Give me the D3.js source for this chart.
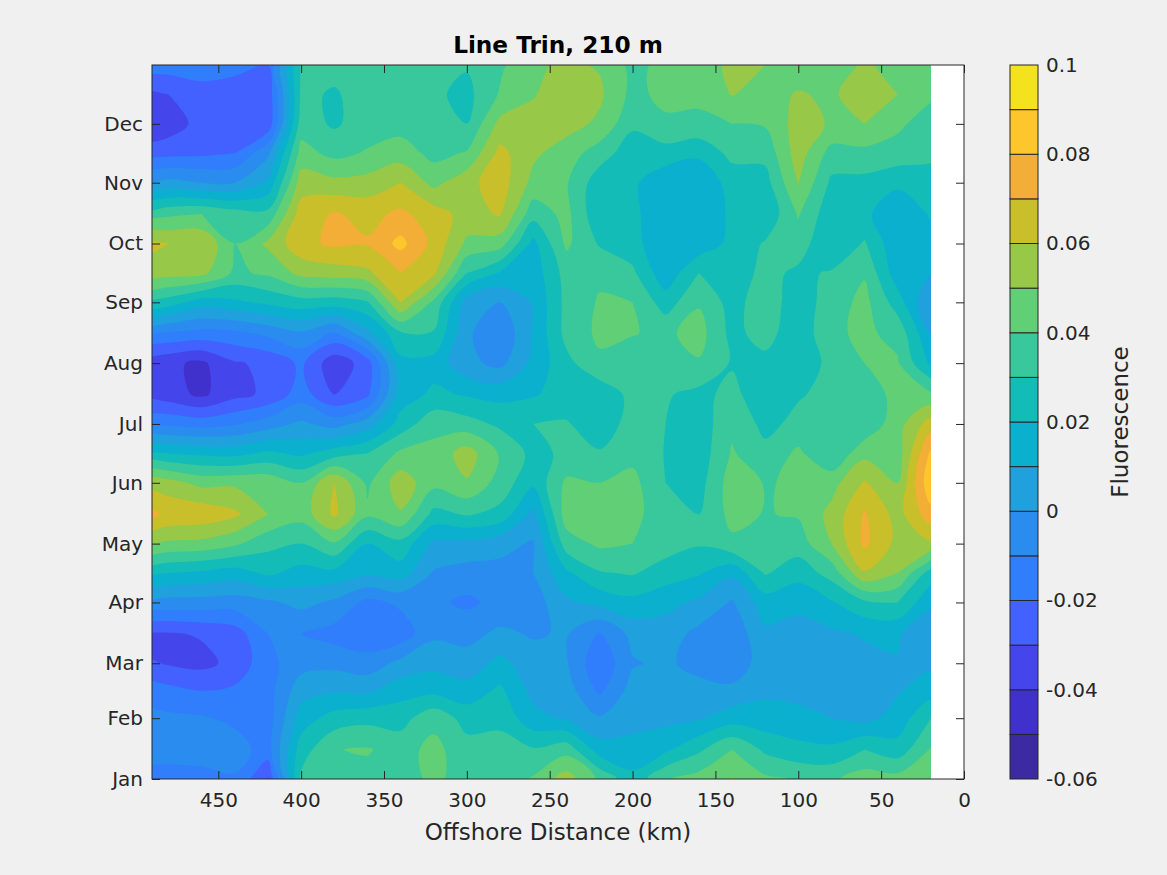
<!DOCTYPE html>
<html>
<head>
<meta charset="utf-8">
<style>
html, body { margin: 0; padding: 0; background: #f0f0f0; }
svg { display: block; font-family: "DejaVu Sans", sans-serif; }
.tick text { fill: #262626; font-size: 20px; font-family: "DejaVu Sans", sans-serif; }
.tick line { stroke: #262626; stroke-width: 1; }
.domain { display: none; }
</style>
<script src="https://cdnjs.cloudflare.com/ajax/libs/d3/7.8.5/d3.min.js"></script>
</head>
<body>
<svg id="chart" width="1167" height="875"></svg>
<script>
// Months on the y axis, day of year of each tick
var monthNames = ['Jan', 'Feb', 'Mar', 'Apr', 'May', 'Jun', 'Jul', 'Aug', 'Sep', 'Oct', 'Nov', 'Dec'];
var monthDays = [1, 32, 60, 91, 121, 152, 182, 213, 244, 274, 305, 335];
var distanceTicks = [450, 400, 350, 300, 250, 200, 150, 100, 50, 0];
var colorbarTicks = [-0.06, -0.04, -0.02, 0, 0.02, 0.04, 0.06, 0.08, 0.1];

// Contour levels, in units of 0.001
var levels = [-60, -50, -40, -30, -20, -10, 0, 10, 20, 30, 40, 50, 60, 70, 80, 90, 100];
var bandColors = ['#3b2aa2', '#4030cc', '#4446ec', '#4261ff', '#307efb', '#2b8cf0', '#20a0dc', '#0cb0cf',
    '#14bcb8', '#38c89c', '#60cf75', '#98c847', '#c9bf2a', '#f3ae38', '#fdc62c', '#f5e21e'];

// Grid nodes: first distance is left of the axis limit and gets clipped
var gridDistances = [500, 480, 460, 440, 420, 400, 380, 360, 340, 320, 300, 280, 260, 240, 220, 200, 180, 160, 140, 120, 100, 80, 60, 40, 20];
var gridDays = [365, 350, 335, 320, 305, 289, 274, 259, 244, 228, 213, 197, 182, 167, 152, 136, 121, 106, 91, 75, 60, 46, 32, 16, 1];

// Fluorescence x 1000: one line per distance, values follow gridDays
var fluorescence = [
    [-14, -38, -42, -26, -3, 30, 65, 55, 30, -12, -36, -33, -14, 22, 58, 75, 52, 22, -3, -35, -27, -15, -6, -5, -16],
    [-15, -30, -36, -23, 3, 38, 60, 54, 25, -12, -38, -36, -12, 20, 54, 68, 48, 20, -4, -31, -31, -17, -8, -6, -14],
    [-15, -24, -26, -22, 0, 40, 59, 53, 15, -14, -42, -42, -14, 18, 47, 67, 47, 18, -4, -29, -33, -20, -9, -6, -13],
    [-17, -25, -27, -20, 0, 35, 40, 38, 18, -13, -31, -33, -11, 17, 48, 62, 42, 15, -5, -25, -27, -18, -12, -6, -11],
    [-20, -27, -27, -2, 12, 33, 52, 42, 22, -8, -28, -28, -5, 22, 47, 50, 33, 22, -2, -10, -13, -14, -15, -14, -31],
    [31, 32, 35, 44, 55, 65, 67, 53, 26, -2, -18, -15, 2, 18, 40, 44, 30, 16, 3, -10, -4, 6, 15, 25, 32],
    [33, 29, 28.5, 37, 53, 71, 72, 55, 25, -12, -37, -30, -4, 25, 60, 62, 39, 17, -2, -14, -3, 9, 24, 39.7, 38],
    [35, 34, 35, 41, 54, 67, 71, 58, 29, 7, -25, -22, 5, 30, 38, 42, 20, 12, -13, -17, -6, 8, 27, 40.8, 37],
    [36, 35, 36, 45, 60, 72, 83, 70, 60, 28, 17, 15, 24, 42, 56, 49, 27, 15, -8, -16, 3, 16, 26, 36, 36],
    [35, 32, 34, 37, 47, 65, 67, 62, 38, 29, 16, 22, 37, 43, 43, 27, 8, -1, -8, -2, 7, 17, 37, 43, 42],
    [31, 27, 30, 41, 57, 56, 48, 30, 5, 2, 3, 19, 34, 55, 49, 31, 7, -4, -12, -3, 4, 14, 26, 34, 36],
    [38, 41, 53, 63, 65, 61, 45, 19, 0, -9, -3, 17, 28, 39, 36, 27, 3, -3, -7, 2, 13, 22, 28, 33, 34],
    [48, 49, 55, 52, 47, 34, 17, 14, 11, 11, 13, 19, 30, 27, 22, 7, -1, 0, -5, -1, 4, 7, 13, 31, 41],
    [52, 58, 54, 45, 41, 43, 42, 34, 33, 33, 27, 24, 31, 32, 42, 45, 35, 18, 8, 1, 1, 5, 9, 36, 55],
    [49, 52, 48, 35, 24, 22, 29, 38, 41, 42, 38, 23, 24, 31, 40, 46, 42, 29, 13, -11, -18, -12, 1, 15, 38],
    [37, 37, 32, 24, 22, 23, 24, 32, 40, 40.5, 34, 33, 34, 37, 43, 44, 40, 31, 17, 3, -1, 4, 7, 13, 23],
    [43, 43, 38, 26, 12, 11, 11, 13, 25, 38, 38, 31, 30, 29.5, 30, 32, 35, 25, 13, 5, 2, 4, 7, 18, 39],
    [43, 42, 38, 22, 12, 12, 13, 30, 39, 44, 39, 27, 24, 24, 26, 30, 31, 21, 8, -3, -4, 4, 9, 28, 44],
    [53, 50.5, 40, 33, 24, 22, 23, 24, 26, 27, 29, 33, 38, 41, 45, 43, 38, 12, -1, -7, -8, 3, 15, 40, 50.5],
    [50, 46, 41, 33, 26, 22, 31, 33, 36, 34, 27, 23, 27, 33, 39.5, 39.5, 39.5, 31, 15, 8, 6, 8, 14, 28, 42],
    [44, 51, 54, 55, 50.5, 41, 35, 28, 24, 23, 21, 29, 33, 42, 41, 41, 35, 24, 12, 7, 6, 7, 13, 23, 39],
    [43, 48, 49, 36, 28, 23, 21, 31, 35, 38, 34, 33, 32, 31, 46, 53, 50, 34, 19, 8, 5, 5, 10, 22, 38],
    [52, 57, 50, 37, 27, 22, 31, 39, 43, 42, 40, 33, 32, 47, 61, 71, 72, 59, 28, 11, 7, 6, 7, 30, 45],
    [45, 50, 42, 36, 22, 13, 12, 14, 25, 37, 41, 44, 46, 45, 50, 56, 57, 50, 30, 11, 9.5, 9, 14, 24, 44],
    [44, 42, 35, 33, 24, 21, 16, 11, 0, 10, 18, 42, 65, 82, 88, 76, 58, 25, 12, 3, 8, 15, 30, 41, 46]
];

var svg = d3.select('#chart');

var plotLeft = 152, plotRight = 964, plotTop = 65, plotBottom = 779;

var x = d3.scaleLinear().domain([490, 0]).range([plotLeft, plotRight]);
var y = d3.scaleLinear().domain([1, 365]).range([plotBottom, plotTop]);

// Plot background and the clip for the contour bands
svg.append('rect')
    .attr('x', plotLeft).attr('y', plotTop)
    .attr('width', plotRight - plotLeft).attr('height', plotBottom - plotTop)
    .attr('fill', '#fff');

svg.append('clipPath').attr('id', 'plotClip')
    .append('rect')
    .attr('x', plotLeft).attr('y', plotTop)
    .attr('width', x(gridDistances[gridDistances.length - 1]) - plotLeft).attr('height', plotBottom - plotTop);

// d3.contours wants a flat row-major grid
var nCols = gridDistances.length, nRows = gridDays.length;
var flat = [];
for (var r = 0; r < nRows; r++) {
    for (var c = 0; c < nCols; c++) {
        flat.push(fluorescence[c][r]);
    }
}

var contours = d3.contours()
    .size([nCols, nRows])
    .thresholds(levels.slice(0, -1))(flat);

// Grid index -> pixel. Node i sits at contour coordinate i + 0.5
var colToX = d3.scaleLinear().domain(d3.range(nCols)).range(gridDistances.map(function(d) { return x(d); }));
var rowToY = d3.scaleLinear().domain(d3.range(nRows)).range(gridDays.map(function(d) { return y(d); }));

// Rings are drawn with a closed curve so the coarse grid does not show as corners
var ringLine = d3.line()
    .x(function(p) { return colToX(p[0] - 0.5); })
    .y(function(p) { return rowToY(p[1] - 0.5); })
    .curve(d3.curveCatmullRomClosed.alpha(0.5));

var contourPath = function(multi) {
    var d = '';
    multi.coordinates.forEach(function(polygon) {
        polygon.forEach(function(ring) {
            d += ringLine(ring.slice(0, -1));
        });
    });
    return d;
};

svg.append('g')
    .attr('clip-path', 'url(#plotClip)')
    .selectAll('path')
    .data(contours)
    .enter().append('path')
    .attr('d', contourPath)
    .attr('fill', function(d, i) { return bandColors[i]; });

// Axes, ticks point inward on all four sides
var monthLabel = function(d) { return monthNames[monthDays.indexOf(d)]; };

svg.append('g')
    .attr('transform', 'translate(0,' + plotBottom + ')')
    .call(d3.axisBottom(x).tickValues(distanceTicks).tickSize(-8).tickPadding(14).tickFormat(d3.format('d')));
svg.append('g')
    .attr('transform', 'translate(0,' + plotTop + ')')
    .call(d3.axisTop(x).tickValues(distanceTicks).tickSize(-8).tickFormat(''));
svg.append('g')
    .attr('transform', 'translate(' + plotLeft + ',0)')
    .call(d3.axisLeft(y).tickValues(monthDays).tickSize(-8).tickPadding(9).tickFormat(monthLabel));
svg.append('g')
    .attr('transform', 'translate(' + plotRight + ',0)')
    .call(d3.axisRight(y).tickValues(monthDays).tickSize(-8).tickFormat(''));

svg.append('rect')
    .attr('x', plotLeft).attr('y', plotTop)
    .attr('width', plotRight - plotLeft).attr('height', plotBottom - plotTop)
    .attr('fill', 'none')
    .attr('stroke', '#262626');

// Title and axis label
svg.append('text')
    .attr('x', 558).attr('y', 53)
    .attr('text-anchor', 'middle')
    .attr('font-size', 23.2).attr('font-weight', 'bold')
    .attr('fill', '#000')
    .text('Line Trin, 210 m');

svg.append('text')
    .attr('x', 558).attr('y', 840)
    .attr('text-anchor', 'middle')
    .attr('font-size', 23)
    .attr('fill', '#262626')
    .text('Offshore Distance (km)');

// Colorbar
var cbLeft = 1010, cbRight = 1038;
var cbY = d3.scaleLinear().domain([-60, 100]).range([plotBottom, plotTop]);

svg.append('g')
    .selectAll('rect')
    .data(bandColors)
    .enter().append('rect')
    .attr('x', cbLeft)
    .attr('width', cbRight - cbLeft)
    .attr('y', function(d, i) { return cbY(levels[i + 1]); })
    .attr('height', function(d, i) { return cbY(levels[i]) - cbY(levels[i + 1]); })
    .attr('fill', function(d) { return d; })
    .attr('stroke', '#262626')
    .attr('stroke-width', 1);

var cbAxisScale = d3.scaleLinear().domain([-0.06, 0.1]).range([plotBottom, plotTop]);

svg.append('g')
    .attr('transform', 'translate(' + cbRight + ',0)')
    .call(d3.axisRight(cbAxisScale).tickValues(colorbarTicks).tickSize(0).tickPadding(8).tickFormat(function(d) { return String(d); }));

svg.append('text')
    .attr('transform', 'translate(1121,422) rotate(-90)')
    .attr('text-anchor', 'middle')
    .attr('dominant-baseline', 'middle')
    .attr('font-size', 23)
    .attr('fill', '#262626')
    .text('Fluorescence');
</script>
</body>
</html>
